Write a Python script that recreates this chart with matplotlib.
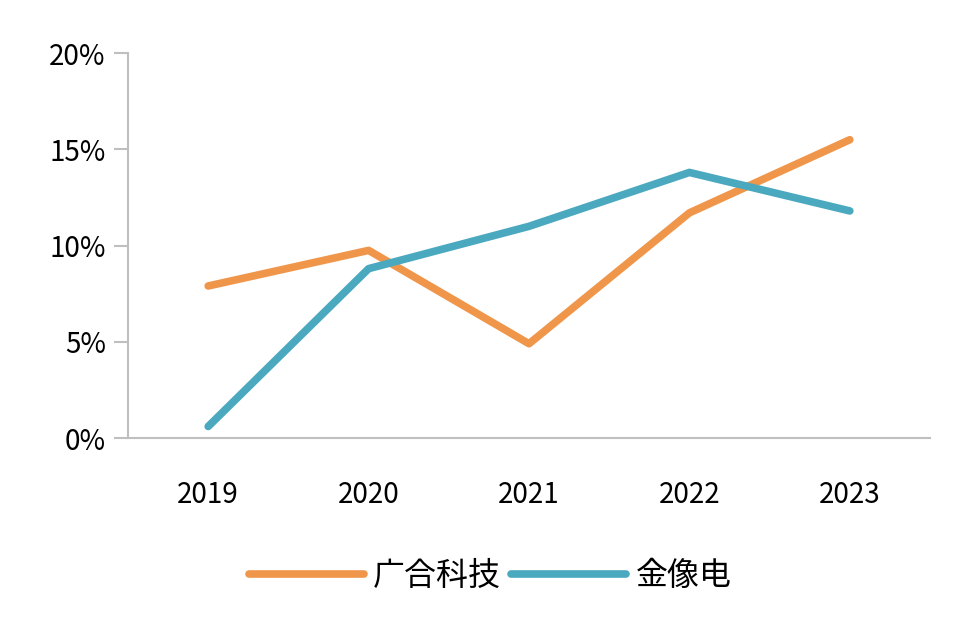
import matplotlib
matplotlib.use("Agg")
import matplotlib.pyplot as plt
from matplotlib import font_manager as fm

years = ["2019", "2020", "2021", "2022", "2023"]
guanghe = [7.9, 9.75, 4.9, 11.7, 15.5]
jinxiang = [0.6, 8.8, 11.0, 13.8, 11.8]
yticks = [0, 5, 10, 15, 20]
ytick_labels = ["0%", "5%", "10%", "15%", "20%"]

cjk = None
for f in fm.findSystemFonts():
    if "NotoSansCJK" in f.replace(" ", "") or "NotoSansSC" in f:
        fm.fontManager.addfont(f)
        if cjk is None or "Regular" in f:
            cjk = f
if cjk:
    name = fm.FontProperties(fname=cjk).get_name()
    plt.rcParams["font.family"] = [name, "DejaVu Sans"]
else:
    plt.rcParams["font.family"] = ["Noto Sans CJK SC", "DejaVu Sans"]

fig = plt.figure(figsize=(9.8, 6.4), dpi=100)
ax = fig.add_axes([0.1306, 0.3156, 0.8184, 0.6014])
x = range(len(years))
ax.plot(x, guanghe, color="#F0964A", lw=5.5, label="广合科技", solid_capstyle="round")
ax.plot(x, jinxiang, color="#4AA8BF", lw=5.5, label="金像电", solid_capstyle="round")
ax.set_xlim(-0.5, 4.5)
ax.set_ylim(0, 20)
ax.set_yticks(yticks)
ax.set_yticklabels(ytick_labels, fontsize=20)
ax.set_xticks(list(x))
ax.set_xticklabels(years, fontsize=20)
for s in ["top", "right"]:
    ax.spines[s].set_visible(False)
for s in ["left", "bottom"]:
    ax.spines[s].set_color("#BFBFBF")
    ax.spines[s].set_linewidth(1.5)
ax.tick_params(axis="y", length=10, color="#BFBFBF", width=1.5, pad=6)
ax.tick_params(axis="x", length=0, pad=30)
fig.legend(loc="center", bbox_to_anchor=(0.5, 0.1), ncol=2, frameon=False,
           fontsize=23, handlelength=3.6, columnspacing=0.3, handletextpad=0.3)
fig.savefig("out.png", dpi=100, facecolor="white")
